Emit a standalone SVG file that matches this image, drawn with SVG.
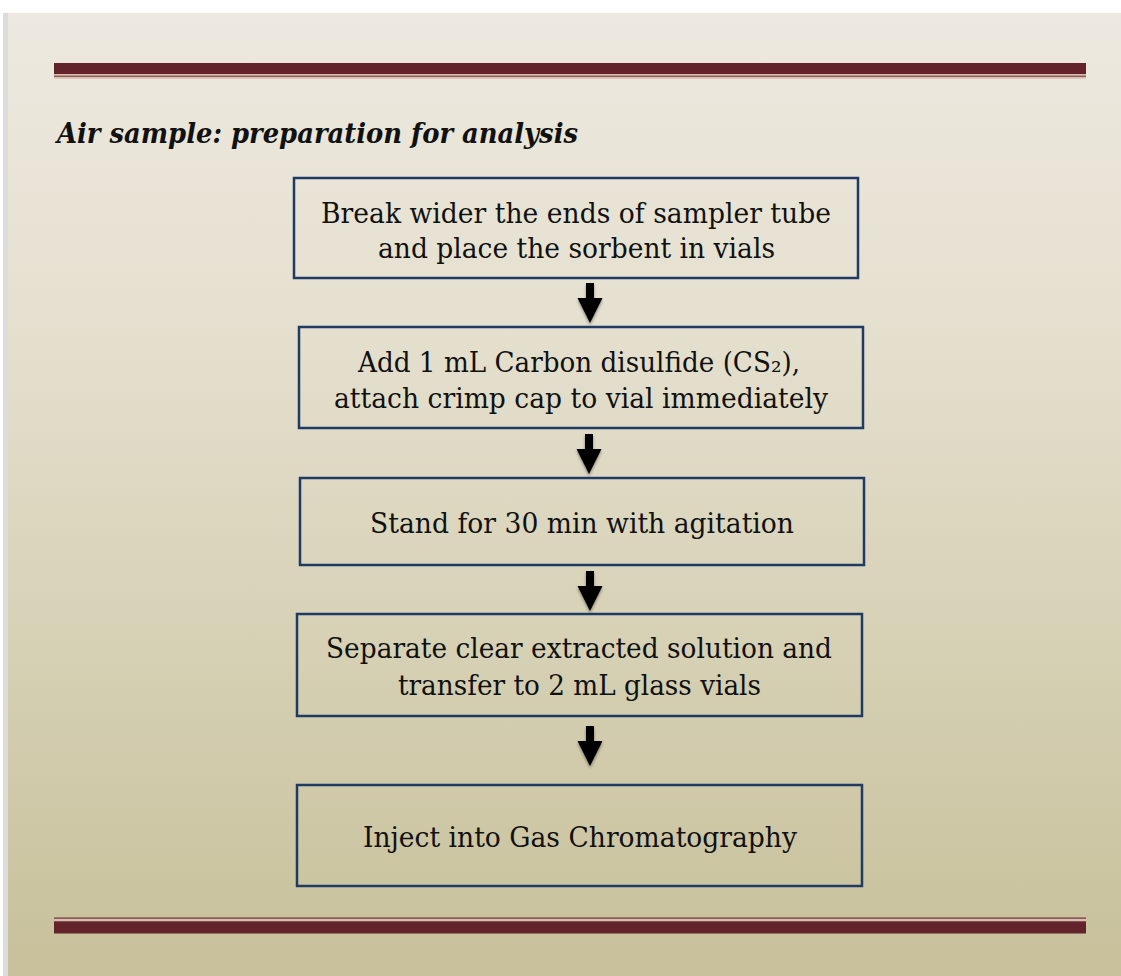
<svg xmlns="http://www.w3.org/2000/svg" width="1121" height="976" viewBox="0 0 1121 976">
<defs>
<linearGradient id="bg" x1="0" y1="0" x2="0" y2="1">
<stop offset="0" stop-color="#ede9e0"/>
<stop offset="0.35" stop-color="#e4dfcd"/>
<stop offset="1" stop-color="#c7c09a"/>
</linearGradient>
<filter id="sh" x="-50%" y="-20%" width="200%" height="160%">
<feGaussianBlur in="SourceAlpha" stdDeviation="1.5"/>
<feOffset dx="0" dy="1.5" result="b"/>
<feComponentTransfer><feFuncA type="linear" slope="0.4"/></feComponentTransfer>
<feMerge><feMergeNode/><feMergeNode in="SourceGraphic"/></feMerge>
</filter>
<path id="arr" d="M-4,0 H4 V15 H12.5 L0,40 L-12.5,15 H-4 Z"/>
</defs>
<style>
.box{fill:none;stroke:#1f3a63;stroke-width:2.5}
.t{font-family:"DejaVu Serif","Liberation Serif",serif;font-size:27px;fill:#111;text-anchor:middle}
.title{font-family:"DejaVu Serif","Liberation Serif",serif;font-size:27px;font-weight:bold;font-style:italic;fill:#111}
.dk{fill:#63232a}
.lt{fill:#d9bcb2}
.md{fill:#8c5c57}
</style>
<rect x="0" y="0" width="1121" height="976" fill="#ffffff"/>
<rect x="3" y="13" width="1118" height="963" fill="#dcdcdc"/>
<rect x="8" y="13" width="1113" height="963" fill="url(#bg)"/>
<g id="top-rule">
<rect class="dk" x="54" y="63" width="1032" height="11"/>
<rect class="lt" x="54" y="74" width="1032" height="1.5"/>
<rect class="md" x="54" y="75.5" width="1032" height="1.5"/>
<rect class="lt" x="54" y="77" width="1032" height="1.7"/>
</g>
<g id="bottom-rule">
<rect class="md" x="54" y="917.3" width="1032" height="1.8"/>
<rect class="lt" x="54" y="919.1" width="1032" height="2.2"/>
<rect class="dk" x="54" y="921.3" width="1032" height="12.2"/>
</g>
<text id="title" class="title" x="57" y="143" textLength="521" lengthAdjust="spacingAndGlyphs">Air sample: preparation for analysis</text>
<g id="node1">
<rect class="box" x="294" y="178" width="564" height="100"/>
<text class="t" x="576" y="223" textLength="510" lengthAdjust="spacingAndGlyphs">Break wider the ends of sampler tube</text>
<text class="t" x="576.5" y="258" textLength="397" lengthAdjust="spacingAndGlyphs">and place the sorbent in vials</text>
</g>
<g id="node2">
<rect class="box" x="299" y="327" width="564" height="101"/>
<text class="t" x="579" y="372" textLength="442" lengthAdjust="spacingAndGlyphs">Add 1 mL Carbon disulfide (CS₂),</text>
<text class="t" x="581" y="408" textLength="494" lengthAdjust="spacingAndGlyphs">attach crimp cap to vial immediately</text>
</g>
<g id="node3">
<rect class="box" x="300" y="478" width="564" height="87"/>
<text class="t" x="582" y="533" textLength="424" lengthAdjust="spacingAndGlyphs">Stand for 30 min with agitation</text>
</g>
<g id="node4">
<rect class="box" x="297" y="614" width="565" height="102"/>
<text class="t" x="579" y="658" textLength="506" lengthAdjust="spacingAndGlyphs">Separate clear extracted solution and</text>
<text class="t" x="579.5" y="695" textLength="363" lengthAdjust="spacingAndGlyphs">transfer to 2 mL glass vials</text>
</g>
<g id="node5">
<rect class="box" x="297" y="785" width="565" height="101"/>
<text class="t" x="580" y="847" textLength="434" lengthAdjust="spacingAndGlyphs">Inject into Gas Chromatography</text>
</g>
<g id="connectors" fill="#000" filter="url(#sh)">
<use href="#arr" x="590" y="283"/>
<use href="#arr" x="589" y="434"/>
<use href="#arr" x="590" y="571"/>
<use href="#arr" x="590" y="726"/>
</g>
</svg>
